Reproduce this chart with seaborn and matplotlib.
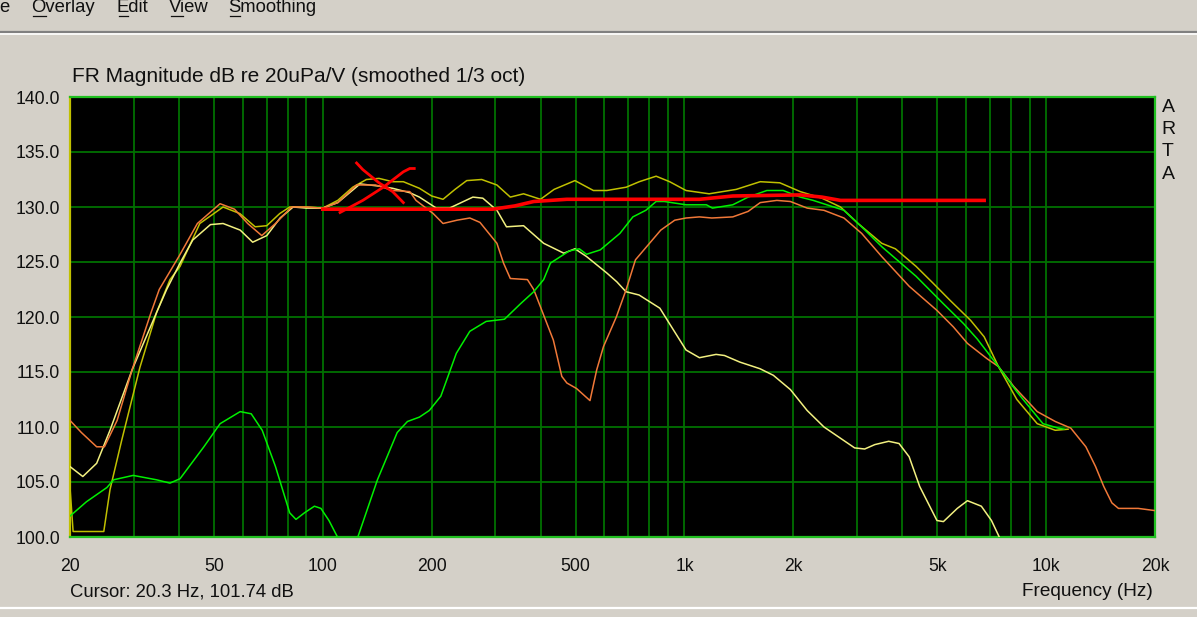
import matplotlib
matplotlib.use("Agg")
from matplotlib import pyplot as plt
from matplotlib.lines import Line2D
import seaborn as sns

# Curves: frequency (Hz) and level (dB)
olive_hz = [20, 20.4, 24.8, 25.8, 27.8, 31.2, 34.7, 37.8, 40.3, 45.7, 53, 59, 65, 70, 76, 81, 90,
            100, 110, 121, 132, 143, 156, 167, 185, 200, 215, 232, 250, 275, 303, 330, 359, 400,
            436, 498, 560, 610, 690, 750, 835, 910, 1010, 1170, 1390, 1620, 1835, 2090, 2400,
            2700, 3020, 3510, 3830, 4370, 4860, 5430, 6180, 6740, 7380, 8300, 9450, 10600, 11500]
olive_db = [104.5, 100.5, 100.5, 104.3, 108.8, 115.4, 120.4, 123.4, 124.6, 128.5, 130.0,
            129.4, 128.2, 128.3, 129.4, 130.0, 130.0, 129.9, 130.6, 131.8, 132.5, 132.6, 132.3,
            132.3, 131.7, 131.0, 130.7, 131.6, 132.4, 132.5, 132.0, 130.9, 131.2, 130.7, 131.6,
            132.4, 131.5, 131.5, 131.8, 132.3, 132.8, 132.3, 131.5, 131.2, 131.6, 132.3, 132.2,
            131.4, 130.8, 130.0, 128.5, 126.7, 126.2, 124.6, 123.1, 121.5, 119.7, 118.2, 115.5,
            112.5, 110.3, 109.7, 109.8]

pale_hz = [20, 21.7, 23.7, 25.8, 29.7, 34.7, 37, 40.3, 43.7, 48.9, 53, 59.1, 64, 70, 76.2, 82.8,
           90, 100, 110, 126.8, 143, 156, 174, 185, 206, 224, 260, 277, 303, 322, 359, 408, 464,
           498, 536, 610, 650, 689, 749, 855, 909, 1010, 1100, 1223, 1290, 1423, 1617, 1761,
           1963, 2184, 2431, 2955, 3150, 3360, 3670, 3920, 4180, 4470, 4990, 5200, 5680, 6060,
           6620, 7060, 7420, 7700]
pale_db = [106.4, 105.5, 106.7, 109.7, 115.2, 120.4, 122.5, 124.9, 127.0, 128.4, 128.5, 127.9,
           126.8, 127.4, 129.0, 130.0, 129.9, 129.9, 130.4, 132.1, 131.9, 131.7, 131.3, 130.9,
           129.9, 129.9, 130.9, 130.8, 129.7, 128.2, 128.3, 126.7, 125.8, 126.2, 125.5, 124.0,
           123.2, 122.3, 122.0, 120.8, 119.4, 117.0, 116.3, 116.6, 116.5, 115.9, 115.3, 114.7,
           113.4, 111.5, 110.0, 108.1, 108.0, 108.4, 108.7, 108.5, 107.3, 104.6, 101.5, 101.4,
           102.6, 103.3, 102.8, 101.5, 100.0, 99.0]

orange_hz = [20, 21.5, 23.7, 24.9, 27.0, 29.7, 33.5, 35.3, 40, 45, 52, 57, 62, 67.8, 74, 82, 90,
             100, 110, 124, 140, 156, 174, 181, 202, 215, 235, 255, 272, 303, 316, 330, 368, 383,
             400, 434, 458, 473, 503, 548, 572, 597, 648, 690, 732, 815, 860, 940, 1010, 1100,
             1190, 1360, 1500, 1620, 1800, 1963, 2185, 2430, 2760, 3090, 3510, 4180, 4990, 5540,
             6060, 6870, 7380, 8130, 9450, 10600, 11700, 12880, 13700, 14430, 15200, 15850,
             17970, 20000]
orange_db = [110.6, 109.5, 108.2, 108.2, 110.6, 115.2, 120.4, 122.5, 125.5, 128.5, 130.3, 129.8,
             128.5, 127.4, 128.5, 130.0, 130.0, 129.9, 130.4, 132.0, 132.0, 131.5, 131.4, 130.6,
             129.4, 128.5, 128.8, 129.0, 128.6, 126.7, 124.9, 123.5, 123.4, 122.5, 120.9, 117.9,
             114.6, 114.0, 113.5, 112.4, 115.2, 117.3, 120.0, 122.5, 125.2, 127.0, 127.9, 128.8,
             129.0, 129.1, 129.0, 129.1, 129.6, 130.4, 130.6, 130.5, 129.9, 129.7, 129.0, 127.6,
             125.5, 122.8, 120.6, 119.1, 117.6, 116.2, 115.5, 113.7, 111.4, 110.5, 109.9, 108.2,
             106.4, 104.6, 103.1, 102.6, 102.6, 102.4]

green_hz = [20, 22.2, 25.3, 26.4, 29.9, 34.7, 37.8, 40.3, 46.9, 52, 59.1, 63.4, 68, 74, 81, 84.3,
            89, 94.8, 98.8, 104, 109.8, 117, 125, 141.6, 160.6, 171.4, 185, 197, 212, 234, 255,
            283, 318, 352, 383, 408, 426, 480, 512, 536, 585, 663, 720, 782, 835, 880, 1010,
            1150, 1195, 1360, 1500, 1690, 1875, 2090, 2270, 2760, 3090, 3510, 4370, 5200, 5910,
            6450, 7380, 8300, 9800, 10800, 11200]
green_db = [101.9, 103.2, 104.5, 105.2, 105.6, 105.2, 104.9, 105.3, 108.2, 110.3, 111.4, 111.2,
            109.7, 106.4, 102.2, 101.6, 102.2, 102.8, 102.6, 101.5, 100.0, 97.5, 100.0, 105.2,
            109.5, 110.5, 110.9, 111.5, 112.8, 116.7, 118.7, 119.6, 119.8, 121.2, 122.3, 123.4,
            124.9, 126.0, 126.2, 125.7, 126.1, 127.6, 129.1, 129.7, 130.5, 130.5, 130.2, 130.2,
            129.9, 130.2, 130.9, 131.5, 131.5, 130.9, 130.6, 129.7, 128.2, 126.4, 123.7, 121.2,
            119.4, 118.0, 115.5, 113.2, 110.3, 109.9, 109.8]

# hand-drawn target line and the red cross
target_hz = [100, 163, 295, 340, 383, 473, 1100, 1360, 2090, 2400, 2700, 6740]
target_db = [129.8, 129.8, 129.8, 130.1, 130.5, 130.7, 130.7, 131.0, 131.1, 130.9, 130.6, 130.6]
cross_a_hz = [124, 129, 143, 156, 167]
cross_a_db = [134.0, 133.4, 132.2, 131.4, 130.4]
cross_b_hz = [111.6, 129, 147, 167, 174, 179]
cross_b_db = [129.5, 130.6, 131.8, 133.2, 133.5, 133.5]

x_ticks = [20, 50, 100, 200, 500, 1000, 2000, 5000, 10000, 20000]
x_labels = ["20", "50", "100", "200", "500", "1k", "2k", "5k", "10k", "20k"]
x_grid = [30, 40, 60, 70, 80, 90, 300, 400, 600, 700, 800, 900,
          3000, 4000, 6000, 7000, 8000, 9000]
y_ticks = [100, 105, 110, 115, 120, 125, 130, 135, 140]

W, H = 1197, 617
BG = "#D4D0C8"
GRID = "#007000"

plt.rcParams["font.family"] = ["Liberation Sans", "DejaVu Sans"]

fig = plt.figure(figsize=(W / 100, H / 100), dpi=100, facecolor=BG)
ax = fig.add_axes([70 / W, 1 - 537 / H, (1155 - 70) / W, (537 - 97) / H])
ax.set_facecolor("black")

sns.lineplot(x=olive_hz, y=olive_db, ax=ax, color="#C0C000", lw=1.1, estimator=None, sort=False, zorder=3)
sns.lineplot(x=pale_hz, y=pale_db, ax=ax, color="#F2F080", lw=1.1, estimator=None, sort=False, zorder=3)
sns.lineplot(x=orange_hz, y=orange_db, ax=ax, color="#F07838", lw=1.1, estimator=None, sort=False, zorder=3)
sns.lineplot(x=green_hz, y=green_db, ax=ax, color="#00F000", lw=1.1, estimator=None, sort=False, zorder=3)
sns.lineplot(x=target_hz, y=target_db, ax=ax, color="#FF0000", lw=2.6, estimator=None, sort=False, zorder=4)
sns.lineplot(x=cross_a_hz, y=cross_a_db, ax=ax, color="#FF0000", lw=2.0, estimator=None, sort=False, zorder=4)
sns.lineplot(x=cross_b_hz, y=cross_b_db, ax=ax, color="#FF0000", lw=2.0, estimator=None, sort=False, zorder=4)

ax.set_xscale("log")
ax.set_xlim(20, 20000)
ax.set_ylim(100, 140)
ax.set_xticks(x_ticks, x_labels)
ax.set_xticks(x_grid, minor=True)
ax.set_yticks(y_ticks, [f"{v:.1f}" for v in y_ticks])
ax.tick_params(which="both", length=0, labelsize=12.7, colors="#101010")
ax.tick_params(axis="x", pad=15)
ax.tick_params(axis="y", pad=7)
ax.grid(True, which="both", color=GRID, lw=1.3, zorder=1)
ax.set_axisbelow(True)
ax.set_xlabel("")
ax.set_ylabel("")
for side in ["top", "right", "bottom"]:
    ax.spines[side].set_color("#20C020")
    ax.spines[side].set_linewidth(1.6)
ax.spines["left"].set_color("#C0C000")
ax.spines["left"].set_linewidth(1.6)


def px_text(x, y, s, **kw):
    fig.text(x / W, 1 - y / H, s, fontsize=kw.pop("fontsize", 13), color="#101010", va="center", **kw)


# menu bar
menu = [(0, "e"), (32, "Overlay"), (118, "Edit"), (170, "View"), (229, "Smoothing")]
for x0, s in menu:
    px_text(x0 - 1, 7, s, fontsize=13.3)
for x0, x1 in [(33, 46), (119, 128), (171, 183), (230, 240)]:
    fig.add_artist(Line2D([x0 / W, x1 / W], [1 - 16 / H] * 2, color="#101010", lw=0.9))
fig.add_artist(Line2D([0, 1], [1 - 31.5 / H] * 2, color="#808080", lw=1.6))
fig.add_artist(Line2D([0, 1], [1 - 33.5 / H] * 2, color="white", lw=1.2))
fig.add_artist(Line2D([0, 1], [1 - 608 / H] * 2, color="white", lw=1.6))

px_text(72, 77, "FR Magnitude dB re 20uPa/V (smoothed 1/3 oct)", fontsize=15)
for i, ch in enumerate("ARTA"):
    px_text(1168, 107 + i * 22.5, ch, fontsize=14, ha="center")
px_text(70, 592, "Cursor: 20.3 Hz, 101.74 dB", fontsize=13.3)
px_text(1153, 592, "Frequency (Hz)", fontsize=13.7, ha="right")

plt.savefig("out.png", dpi=100, facecolor=BG)
